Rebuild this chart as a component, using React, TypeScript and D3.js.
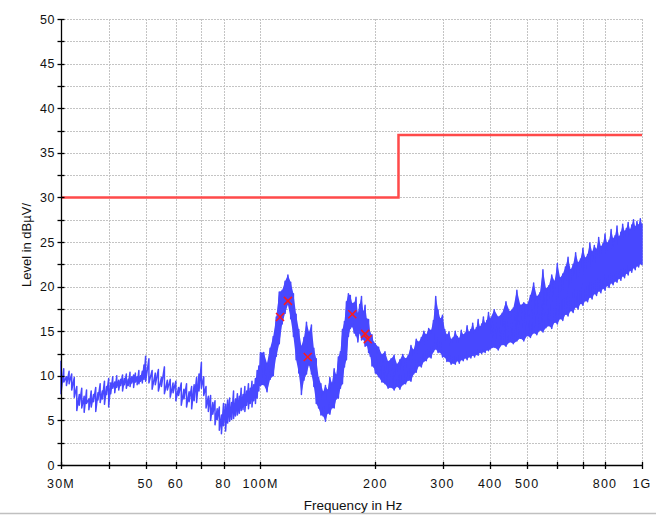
import React from "react";
import * as d3 from "d3";

const W = 656;
const H = 515;

// Measured trace: min / max level per frequency bin (MHz, dBµV)
const traceFreq = [
  30, 30.5, 31, 31.5, 32, 32.5, 33, 33.5, 34, 34.5, 35, 35.5, 36, 36.5, 37, 37.5, 38, 38.5, 39, 39.5,
  40, 40.5, 41, 41.5, 42, 42.5, 43, 43.5, 44, 44.5, 45, 45.5, 46, 46.5, 47, 47.5, 48, 48.5, 49, 49.5, 50,
  51, 52, 53, 54, 55, 56, 57, 58, 59, 60, 61, 62, 63, 64, 65, 66, 67, 68, 69, 70,
  71, 72, 73, 74, 75, 76, 77, 78, 79, 80, 81, 82, 83, 84, 85, 86, 87, 88, 89, 90,
  91, 92, 93, 94, 95, 96, 97, 98, 99, 100,
  102, 104, 106, 108, 110, 112, 114, 116, 118, 120, 122, 124, 126, 128, 130, 132, 134, 136, 138, 140,
  142, 144, 146, 148, 150, 152, 154, 156, 158, 160, 162, 164, 166, 168, 170, 172, 174, 176, 178, 180,
  182, 184, 186, 188, 190, 192, 194, 196, 198, 200,
  204, 208, 212, 216, 220, 224, 228, 232, 236, 240, 244, 248, 252, 256, 260, 264, 268, 272, 276, 280,
  284, 288, 292, 296, 300, 304, 308, 312, 316, 320, 324, 328, 332, 336, 340, 344, 348, 352, 356, 360,
  364, 368, 372, 376, 380, 384, 388, 392, 396, 400,
  410, 420, 430, 440, 450, 460, 470, 480, 490, 500, 510, 520, 530, 540, 550, 560, 570, 580, 590, 600,
  610, 620, 630, 640, 650, 660, 670, 680, 690, 700, 710, 720, 730, 740, 750, 760, 770, 780, 790, 800,
  810, 820, 830, 840, 850, 860, 870, 880, 890, 900, 910, 920, 930, 940, 950, 960, 970, 980, 990, 1000,
];
const traceLow = [
  8.0, 9.3, 8.9, 9.1, 8.4, 7.6, 6.1, 6.7, 6.4, 5.9, 6.9, 6.2, 6.5, 7.1, 6.0, 7.3, 7.0, 7.4, 6.8, 7.9,
  6.5, 8.0, 8.6, 8.1, 8.7, 8.4, 8.9, 8.3, 9.0, 8.6, 8.9, 8.8, 9.2, 8.7, 9.3, 9.0, 9.1, 9.4, 9.2, 9.6, 9.4,
  9.2, 8.5, 9.0, 8.3, 8.8, 8.0, 8.4, 7.6, 8.1, 7.2, 7.8, 6.7, 7.4, 6.5, 7.1, 6.3, 7.2, 7.0, 8.3, 8.6,
  7.8, 6.4, 6.0, 5.0, 5.7, 4.5, 5.1, 3.9, 3.5, 4.4, 3.8, 4.7, 4.9, 5.1, 5.2, 5.5, 5.6, 5.8, 6.1, 6.2,
  6.0, 6.7, 6.3, 6.9, 6.5, 7.2, 6.9, 7.5, 8.3, 8.9,
  9.0, 8.2, 9.6, 10.0, 12.2, 13.6, 15.8, 17.0, 18.0, 16.4, 14.4, 11.8, 10.3, 7.9, 9.5, 10.2, 11.2, 10.2, 8.8, 6.9,
  6.4, 5.6, 5.5, 4.9, 5.8, 5.7, 6.4, 6.4, 7.4, 7.5, 8.6, 9.1, 11.0, 11.8, 14.4, 15.3, 15.5, 14.8, 14.5, 13.8,
  14.8, 14.0, 14.1, 13.3, 13.4, 12.6, 12.2, 11.1, 11.0, 10.3,
  9.9, 9.3, 9.1, 8.6, 8.7, 8.4, 8.8, 8.5, 9.0, 9.1, 9.5, 9.4, 10.2, 10.4, 11.1, 11.0, 11.6, 11.7, 12.1, 12.0,
  12.7, 13.0, 12.6, 12.6, 12.1, 12.1, 11.6, 11.6, 11.3, 11.4, 11.3, 11.7, 11.4, 11.8, 11.7, 12.0, 11.8, 12.1, 12.0, 12.3,
  12.1, 12.4, 12.3, 12.6, 12.5, 12.7, 12.6, 12.9, 12.8, 13.0,
  13.2, 12.9, 13.5, 13.3, 13.8, 13.6, 13.9, 14.2, 13.9, 14.5, 14.3, 14.8, 14.6, 15.1, 14.9, 15.4, 15.6, 15.3, 16.0, 15.8,
  16.4, 16.2, 16.9, 16.7, 17.3, 17.1, 17.7, 17.5, 18.1, 17.9, 18.4, 18.3, 18.8, 18.6, 19.2, 19.0, 19.5, 19.3, 19.8, 19.6,
  20.1, 19.9, 20.4, 20.2, 20.6, 20.5, 20.9, 20.7, 21.2, 21.0, 21.5, 21.3, 21.8, 21.6, 22.1, 21.9, 22.3, 22.2, 22.6, 22.4,
];
const traceHigh = [
  11.7, 10.8, 9.9, 10.5, 10.2, 9.8, 8.8, 7.9, 8.6, 7.7, 8.4, 7.4, 8.3, 7.9, 8.7, 8.1, 9.1, 8.3, 9.4, 8.8,
  9.7, 9.2, 9.9, 9.3, 10.0, 9.5, 9.6, 10.1, 9.7, 10.2, 9.6, 10.4, 9.9, 10.1, 10.3, 9.9, 10.6, 10.0, 10.5, 11.2, 12.2,
  11.9, 10.6, 10.3, 10.7, 9.8, 11.0, 9.5, 9.6, 9.2, 9.4, 8.7, 9.2, 8.5, 9.1, 8.2, 8.8, 9.0, 9.8, 10.2, 11.5,
  9.9, 8.8, 7.7, 7.8, 7.0, 7.2, 6.3, 6.5, 5.6, 6.9, 6.8, 7.3, 7.5, 7.0, 8.3, 7.4, 8.0, 7.7, 8.6, 7.9,
  8.8, 8.3, 9.1, 8.6, 9.4, 9.0, 9.7, 10.6, 11.1, 12.6,
  12.6, 11.4, 13.1, 14.4, 16.6, 19.4, 19.6, 20.6, 21.3, 20.5, 19.2, 16.9, 15.2, 13.3, 14.3, 16.0, 14.9, 15.7, 13.1, 11.9,
  9.8, 9.1, 8.2, 8.9, 8.4, 9.8, 9.2, 10.8, 10.1, 12.1, 12.7, 15.2, 16.1, 18.3, 19.2, 19.0, 18.1, 18.2, 18.8, 17.0,
  18.0, 18.9, 17.2, 17.9, 16.4, 16.3, 14.8, 14.6, 13.8, 13.6,
  13.2, 12.4, 12.7, 11.6, 11.9, 12.3, 11.3, 11.8, 12.4, 11.9, 12.3, 13.4, 12.9, 14.1, 13.8, 14.3, 15.0, 14.6, 15.3, 15.1,
  16.2, 18.9, 17.4, 16.4, 16.8, 15.2, 14.6, 14.9, 14.1, 14.3, 15.0, 14.4, 14.2, 15.1, 14.6, 14.8, 15.6, 14.9, 15.2, 15.9,
  15.1, 15.4, 16.3, 15.5, 15.8, 16.6, 15.9, 16.2, 17.1, 16.4,
  17.4, 16.6, 17.0, 18.3, 17.2, 17.6, 19.6, 17.9, 18.2, 18.0, 19.0, 20.4, 18.9, 19.3, 21.9, 19.8, 20.1, 21.3, 20.6, 22.6,
  21.0, 21.4, 22.2, 23.3, 21.9, 22.5, 23.8, 22.7, 23.1, 24.3, 23.2, 23.6, 24.9, 23.9, 24.6, 24.2, 25.5, 24.5, 24.8, 25.9,
  24.9, 25.2, 26.4, 25.4, 25.7, 26.8, 25.6, 26.1, 27.0, 26.2, 26.5, 27.2, 26.4, 26.9, 27.5, 26.7, 27.3, 26.9, 27.6, 27.0,
];
// above this frequency the trace is drawn as a filled band
const denseFromMHz = 100;

// Limit line
const limitFreq = [30, 230, 230, 1000];
const limitLevel = [30, 30, 37, 37];

// Final measurement markers
const markerFreq = [112.5, 118, 133, 174, 188, 191];
const markerLevel = [16.6, 18.4, 12.1, 16.9, 14.7, 14.1];

// Axes
const xTickValues = [30, 40, 50, 60, 70, 80, 100, 200, 300, 400, 500, 600, 700, 800, 1000];
const xLabelValues = [30, 50, 60, 80, 100, 200, 300, 400, 500, 800, 1000];
const xLabelTexts = ["30M", "50", "60", "80", "100M", "200", "300", "400", "500", "800", "1G"];
const yLabelValues = [0, 5, 10, 15, 20, 25, 30, 35, 40, 45, 50];
const yMinorStep = 2.5;

const FONT = "'Liberation Sans', Arial, sans-serif";
const BLUE = "#4848ff";

export default function App() {
  const left = 61, right = 642, top = 19, bottom = 465;
  const x = d3.scaleLog().domain([30, 1000]).range([left, right]);
  const y = d3.scaleLinear().domain([0, 50]).range([bottom, top]);

  const yTicks = d3.range(0, 50 + 0.001, yMinorStep);

  const saw: [number, number][] = [];
  traceFreq.forEach((f, i) => {
    saw.push([x(f), y(traceHigh[i])]);
    saw.push([x(f), y(traceLow[i])]);
  });
  const sawPath = d3.line()(saw) || "";
  const denseIdx = traceFreq.map((_, i) => i).filter((i) => traceFreq[i] >= denseFromMHz);
  const areaPath =
    d3
      .area<number>()
      .x((i) => x(traceFreq[i]))
      .y0((i) => y(traceLow[i]))
      .y1((i) => y(traceHigh[i]))(denseIdx) || "";

  const limitPath =
    d3
      .line<number>()
      .x((i) => x(limitFreq[i]))
      .y((i) => y(limitLevel[i]))(limitFreq.map((_, i) => i)) || "";

  return (
    <svg
      width={W}
      height={H}
      style={{ position: "absolute", left: 0, top: 0, background: "#fff" }}
    >
      <rect x={0} y={0} width={W} height={H} fill="#fff" />
      {/* grid */}
      <g stroke="#c4c4c4" strokeWidth={1} strokeDasharray="2,1">
        {yTicks.filter((v) => v > 0).map((v) => (
          <line key={"gy" + v} x1={left} x2={right} y1={Math.round(y(v)) + 0.5} y2={Math.round(y(v)) + 0.5} />
        ))}
        {xTickValues.filter((v) => v > 30).map((v) => (
          <line key={"gx" + v} x1={Math.round(x(v)) + 0.5} x2={Math.round(x(v)) + 0.5} y1={top} y2={bottom} />
        ))}
      </g>
      {/* trace */}
      <path d={areaPath} fill={BLUE} stroke="none" />
      <path d={sawPath} fill="none" stroke={BLUE} strokeWidth={1.5} strokeLinejoin="round" />
      {/* limit */}
      <path d={limitPath} fill="none" stroke="#ff4a4a" strokeWidth={2.5} />
      {/* markers */}
      <g stroke="#ff1a1a" strokeWidth={1.5}>
        {markerFreq.map((f, i) => {
          const cx = x(f), cy = y(markerLevel[i]), s = 4;
          return (
            <g key={"m" + i}>
              <line x1={cx - s} y1={cy - s} x2={cx + s} y2={cy + s} />
              <line x1={cx - s} y1={cy + s} x2={cx + s} y2={cy - s} />
            </g>
          );
        })}
      </g>
      {/* axes */}
      <g stroke="#000" strokeWidth={1.3}>
        <line x1={left + 0.5} x2={left + 0.5} y1={top} y2={bottom} />
        <line x1={left} x2={right} y1={bottom + 0.5} y2={bottom + 0.5} />
        {yTicks.map((v) => (
          <line key={"ty" + v} x1={left - 3.5} x2={left + 3.5} y1={Math.round(y(v)) + 0.5} y2={Math.round(y(v)) + 0.5} />
        ))}
        {xTickValues.map((v) => (
          <line key={"tx" + v} x1={Math.round(x(v)) + 0.5} x2={Math.round(x(v)) + 0.5} y1={bottom - 3} y2={bottom + 4} />
        ))}
      </g>
      <g fontFamily={FONT} fontSize={12.5} fill="#111">
        {yLabelValues.map((v) => (
          <text key={"ly" + v} x={55} y={y(v)} dy="0.36em" textAnchor="end" letterSpacing={0.6}>
            {v}
          </text>
        ))}
        {xLabelValues.map((v, i) => (
          <text key={"lx" + v} x={x(v)} y={488} textAnchor="middle" letterSpacing={1.2}>
            {xLabelTexts[i]}
          </text>
        ))}
      </g>
      <text
        fontFamily={FONT}
        fontSize={13}
        fill="#111"
        textAnchor="middle"
        transform={`translate(31, 245) rotate(-90)`}
      >
        Level in dBµV/
      </text>
      <text fontFamily={FONT} fontSize={13.5} fill="#111" textAnchor="middle" x={353} y={510}>
        Frequency in Hz
      </text>
      <line x1={0} x2={W} y1={513.5} y2={513.5} stroke="#c0c0c0" strokeWidth={1.5} />
    </svg>
  );
}
